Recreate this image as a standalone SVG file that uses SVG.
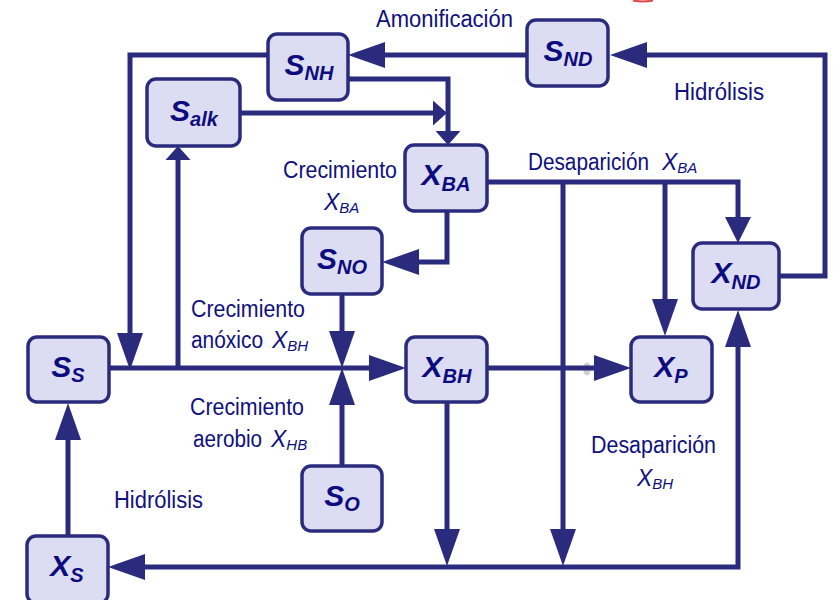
<svg xmlns="http://www.w3.org/2000/svg" xmlns:xlink="http://www.w3.org/1999/xlink" width="836" height="600" viewBox="0 0 836 600">
<style>
.box{fill:#DCDCF2;stroke:#2B2B7E;stroke-width:3.5}
.nl{font-family:"Liberation Sans",Arial,sans-serif;font-weight:bold;font-style:italic;font-size:30px;fill:#0C0C7E;text-anchor:middle}
.sub{font-size:20px}
.ln{fill:none;stroke:#2B2B7E;stroke-width:5;stroke-linejoin:miter}
.ah{fill:#2B2B7E}
.lb{font-family:"Liberation Sans",Arial,sans-serif;font-size:23px;fill:#10107E}
.it{font-style:italic}
.ls{font-style:italic;font-size:15px}
</style>
<defs>
<path id="aL" d="M0,0 L-37,-13 L-37,13 Z"/>
<path id="aM" d="M0,0 L-26,-13 L-26,13 Z"/>
<path id="aS" d="M0,0 L-14,-12.5 L-14,12.5 Z"/>
</defs>
<rect width="836" height="600" fill="#FFFFFF"/>
<path d="M633,0.5 Q643,2.5 653,0.5" fill="none" stroke="#E04848" stroke-width="2"/>

<g id="connectors">
<path class="ln" d="M527,55 H380"/>
<path class="ln" d="M268,55 H130 V340"/>
<path class="ln" d="M348,79 H448 V133"/>
<path class="ln" d="M240,113 H435"/>
<path class="ln" d="M178,368 V158"/>
<path class="ln" d="M109,368 H372"/>
<path class="ln" d="M487,182 H738 V220"/>
<path class="ln" d="M563,182 V532"/>
<path class="ln" d="M665,182 V301"/>
<path class="ln" d="M447,211 V262 H416"/>
<path class="ln" d="M342,294 V333"/>
<path class="ln" d="M342,466 V403"/>
<ellipse cx="587" cy="369" rx="4" ry="6.5" fill="#CFCFCF"/>
<path class="ln" d="M487,368 H596"/>
<path class="ln" d="M447,402 V532"/>
<path class="ln" d="M144,567 H738 V346"/>
<path class="ln" d="M779,276 H825 V55 H645"/>
<path class="ln" d="M68,536 V438"/>
<use xlink:href="#aL" class="ah" transform="translate(348,55) rotate(180)"/>
<use xlink:href="#aL" class="ah" transform="translate(130,370) rotate(90)"/>
<use xlink:href="#aS" class="ah" transform="translate(448,145) rotate(90)"/>
<use xlink:href="#aS" class="ah" transform="translate(447,113)"/>
<use xlink:href="#aS" class="ah" transform="translate(178,146) rotate(-90)"/>
<use xlink:href="#aL" class="ah" transform="translate(406,368)"/>
<use xlink:href="#aM" class="ah" transform="translate(738,243) rotate(90)"/>
<use xlink:href="#aL" class="ah" transform="translate(563,566) rotate(90)"/>
<use xlink:href="#aL" class="ah" transform="translate(665,336) rotate(90)"/>
<use xlink:href="#aL" class="ah" transform="translate(382,262) rotate(180)"/>
<use xlink:href="#aL" class="ah" transform="translate(342,368) rotate(90)"/>
<use xlink:href="#aL" class="ah" transform="translate(342,368) rotate(-90)"/>
<use xlink:href="#aL" class="ah" transform="translate(631,368)"/>
<use xlink:href="#aL" class="ah" transform="translate(447,566) rotate(90)"/>
<use xlink:href="#aL" class="ah" transform="translate(108,567) rotate(180)"/>
<use xlink:href="#aL" class="ah" transform="translate(738,310) rotate(-90)"/>
<use xlink:href="#aL" class="ah" transform="translate(610,55) rotate(180)"/>
<use xlink:href="#aL" class="ah" transform="translate(68,403) rotate(-90)"/>
</g>

<g id="S_NH"><rect class="box" x="268" y="34" width="80" height="66" rx="9"/><text class="nl" x="309" y="75">S<tspan class="sub" dy="5">NH</tspan></text></g>
<g id="S_alk"><rect class="box" x="147" y="79" width="93" height="67" rx="9"/><text class="nl" x="194" y="121">S<tspan class="sub" dy="5">alk</tspan></text></g>
<g id="S_ND"><rect class="box" x="527" y="20" width="81" height="66" rx="9"/><text class="nl" x="568" y="61">S<tspan class="sub" dy="5">ND</tspan></text></g>
<g id="X_BA"><rect class="box" x="405" y="145" width="82" height="66" rx="9"/><text class="nl" x="446" y="185">X<tspan class="sub" dy="6">BA</tspan></text></g>
<g id="S_NO"><rect class="box" x="302" y="228" width="80" height="66" rx="9"/><text class="nl" x="342" y="269">S<tspan class="sub" dy="5">NO</tspan></text></g>
<g id="S_S"><rect class="box" x="28" y="337" width="81" height="65" rx="9"/><text class="nl" x="68" y="377">S<tspan class="sub" dy="5">S</tspan></text></g>
<g id="X_BH"><rect class="box" x="406" y="337" width="81" height="65" rx="9"/><text class="nl" x="447" y="377">X<tspan class="sub" dy="6">BH</tspan></text></g>
<g id="X_P"><rect class="box" x="631" y="337" width="81" height="65" rx="9"/><text class="nl" x="671" y="377">X<tspan class="sub" dy="6">P</tspan></text></g>
<g id="X_ND"><rect class="box" x="693" y="243" width="86" height="66" rx="9"/><text class="nl" x="736" y="283">X<tspan class="sub" dy="6">ND</tspan></text></g>
<g id="S_O"><rect class="box" x="302" y="466" width="80" height="65" rx="9"/><text class="nl" x="342" y="506">S<tspan class="sub" dy="5">O</tspan></text></g>
<g id="X_S"><rect class="box" x="27" y="536" width="81" height="67" rx="9"/><text class="nl" x="67" y="576">X<tspan class="sub" dy="6">S</tspan></text></g>

<g id="labels">
<text class="lb" x="376" y="27" textLength="137" lengthAdjust="spacingAndGlyphs">Amonificación</text>
<text class="lb" x="674" y="100" textLength="90" lengthAdjust="spacingAndGlyphs">Hidrólisis</text>
<text class="lb" x="528" y="170" textLength="121" lengthAdjust="spacingAndGlyphs">Desaparición</text>
<text class="lb it" x="662" y="170">X<tspan class="ls" dy="3">BA</tspan></text>
<text class="lb" x="283" y="178" textLength="114" lengthAdjust="spacingAndGlyphs">Crecimiento</text>
<text class="lb it" x="324" y="210">X<tspan class="ls" dy="3">BA</tspan></text>
<text class="lb" x="191" y="317" textLength="114" lengthAdjust="spacingAndGlyphs">Crecimiento</text>
<text class="lb" x="191" y="348" textLength="72" lengthAdjust="spacingAndGlyphs">anóxico</text>
<text class="lb it" x="272" y="348">X<tspan class="ls" dy="3">BH</tspan></text>
<text class="lb" x="190" y="415" textLength="114" lengthAdjust="spacingAndGlyphs">Crecimiento</text>
<text class="lb" x="193" y="447" textLength="69" lengthAdjust="spacingAndGlyphs">aerobio</text>
<text class="lb it" x="271" y="447">X<tspan class="ls" dy="3">HB</tspan></text>
<text class="lb" x="114" y="508" textLength="89" lengthAdjust="spacingAndGlyphs">Hidrólisis</text>
<text class="lb" x="591" y="453" textLength="125" lengthAdjust="spacingAndGlyphs">Desaparición</text>
<text class="lb it" x="637" y="486">X<tspan class="ls" dy="3">BH</tspan></text>
</g>
</svg>
